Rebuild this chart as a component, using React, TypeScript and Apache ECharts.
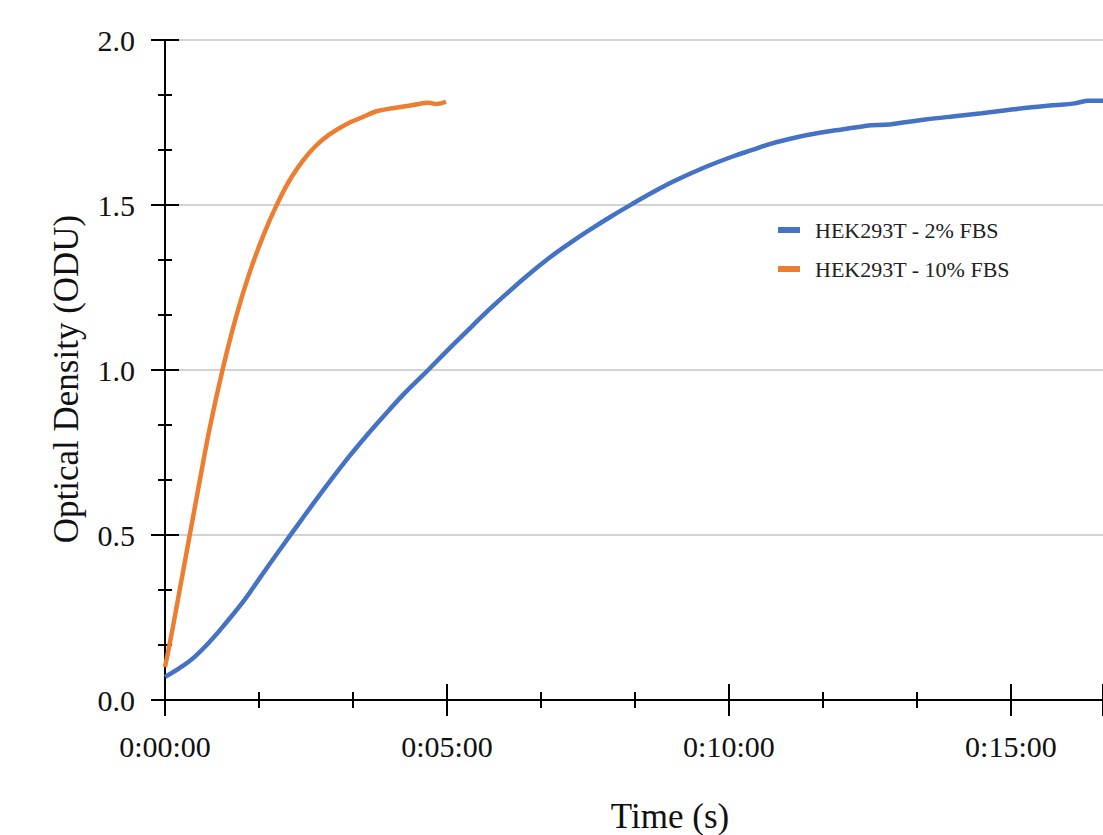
import React, { useEffect, useRef } from "react";
import * as echarts from "echarts";

// Time in seconds, optical density in ODU
const lowFbsTime = [0, 15, 30, 50, 65, 85, 101, 117, 133, 150, 170, 196, 215, 232, 255, 280, 300, 320, 340, 363, 385, 409, 430, 451, 475, 497, 520, 543, 575, 604, 625, 646, 670, 695, 720, 740, 752, 765, 785, 809, 840, 869, 895, 922, 945, 968, 983, 998];
const lowFbsOd = [0.07, 0.096, 0.127, 0.184, 0.234, 0.305, 0.37, 0.435, 0.498, 0.565, 0.642, 0.738, 0.803, 0.858, 0.93, 1.0, 1.058, 1.114, 1.17, 1.23, 1.285, 1.34, 1.383, 1.423, 1.466, 1.503, 1.54, 1.574, 1.615, 1.647, 1.667, 1.687, 1.704, 1.718, 1.729, 1.737, 1.742, 1.743, 1.75, 1.759, 1.769, 1.778, 1.787, 1.796, 1.802, 1.808, 1.816, 1.816];

const highFbsTime = [0, 8, 17, 27, 37, 48, 62, 76, 90, 105, 118, 132, 147, 160, 175, 193, 210, 225, 242, 264, 280, 289, 299];
const highFbsOd = [0.1, 0.215, 0.355, 0.51, 0.665, 0.83, 1.01, 1.165, 1.295, 1.41, 1.495, 1.572, 1.635, 1.678, 1.714, 1.745, 1.766, 1.784, 1.793, 1.803, 1.81, 1.806, 1.813];

const seriesNames = ["HEK293T - 2% FBS", "HEK293T - 10% FBS"];
const seriesColors = ["#4472C4", "#ED7D31"];
const xTitle = "Time (s)";
const yTitle = "Optical Density (ODU)";

const FONT = "Liberation Serif, Times New Roman, serif";

function fmtTime(v: number): string {
  const s = Math.round(v);
  const h = Math.floor(s / 3600);
  const m = Math.floor((s % 3600) / 60);
  const sec = s % 60;
  return `${h}:${String(m).padStart(2, "0")}:${String(sec).padStart(2, "0")}`;
}

export default function App() {
  const ref = useRef<HTMLDivElement>(null);
  useEffect(() => {
    if (!ref.current) return;
    const chart = echarts.init(ref.current, null, { renderer: "svg" });
    const pair = (t: number[], v: number[]) => t.map((x, i) => [x, v[i]]);
    const xMin = 0, xMax = 998, yMin = 0, yMax = 2;
    const axisCommonX = { type: "value", min: xMin, max: xMax, interval: 300, position: "bottom" };
    const axisCommonY = { type: "value", min: yMin, max: yMax, interval: 0.5, position: "left" };
    chart.setOption({
      animation: false,
      backgroundColor: "#ffffff",
      grid: { left: 165, right: -2, top: 40, bottom: 135, containLabel: false },
      legend: {
        orient: "vertical",
        left: 773,
        top: 214,
        itemWidth: 22,
        itemHeight: 6,
        itemGap: 17,
        icon: "rect",
        textStyle: { fontFamily: FONT, fontSize: 22, color: "#222", padding: [0, 0, 0, 10] },
        data: seriesNames,
      },
      xAxis: [
        {
          ...axisCommonX,
          axisLine: { show: true, lineStyle: { color: "#000", width: 2 } },
          axisTick: { show: true, inside: false, length: 16, lineStyle: { color: "#000", width: 2 } },
          minorTick: { show: true, splitNumber: 3, length: 8, lineStyle: { color: "#000", width: 2 } },
          axisLabel: {
            show: true, margin: 31, fontFamily: FONT, fontSize: 30, color: "#111",
            showMaxLabel: false, formatter: (v: number) => fmtTime(v),
          },
          splitLine: { show: false },
        },
        {
          ...axisCommonX,
          axisLine: { show: false },
          axisTick: { show: true, inside: true, length: 16, lineStyle: { color: "#000", width: 2 } },
          minorTick: { show: true, splitNumber: 3, length: 8, lineStyle: { color: "#000", width: 2 } },
          axisLabel: { show: false },
          splitLine: { show: false },
        },
      ],
      yAxis: [
        {
          ...axisCommonY,
          axisLine: { show: true, lineStyle: { color: "#000", width: 2 } },
          axisTick: { show: true, inside: false, length: 14, lineStyle: { color: "#000", width: 2 } },
          minorTick: { show: true, splitNumber: 3, length: 7, lineStyle: { color: "#000", width: 2 } },
          axisLabel: {
            show: true, margin: 30, fontFamily: FONT, fontSize: 30, color: "#111",
            formatter: (v: number) => v.toFixed(1),
          },
          splitLine: { show: true, lineStyle: { color: "#d3d3d3", width: 2 } },
        },
        {
          ...axisCommonY,
          axisLine: { show: false },
          axisTick: { show: true, inside: true, length: 14, lineStyle: { color: "#000", width: 2 } },
          minorTick: { show: true, splitNumber: 3, length: 7, lineStyle: { color: "#000", width: 2 } },
          axisLabel: { show: false },
          splitLine: { show: false },
        },
      ],
      graphic: [
        {
          type: "text",
          x: 670,
          y: 816,
          style: { text: xTitle, fontFamily: FONT, fontSize: 35, fill: "#111", textAlign: "center", textVerticalAlign: "middle" },
        },
        {
          type: "text",
          x: 66,
          y: 379,
          rotation: Math.PI / 2,
          style: { text: yTitle, fontFamily: FONT, fontSize: 35, fill: "#111", textAlign: "center", textVerticalAlign: "middle" },
        },
      ],
      series: [
        {
          name: seriesNames[0],
          type: "line",
          xAxisIndex: 0,
          yAxisIndex: 0,
          data: pair(lowFbsTime, lowFbsOd),
          showSymbol: false,
          smooth: 0.4,
          lineStyle: { color: seriesColors[0], width: 4.5 },
          itemStyle: { color: seriesColors[0] },
          z: 3,
        },
        {
          name: seriesNames[1],
          type: "line",
          xAxisIndex: 0,
          yAxisIndex: 0,
          data: pair(highFbsTime, highFbsOd),
          showSymbol: false,
          smooth: 0.4,
          lineStyle: { color: seriesColors[1], width: 4.5 },
          itemStyle: { color: seriesColors[1] },
          z: 4,
        },
      ],
    });
    return () => chart.dispose();
  }, []);
  return (
    <div
      ref={ref}
      style={{ position: "fixed", left: 0, top: 0, width: 1103, height: 835, background: "#fff" }}
    />
  );
}
